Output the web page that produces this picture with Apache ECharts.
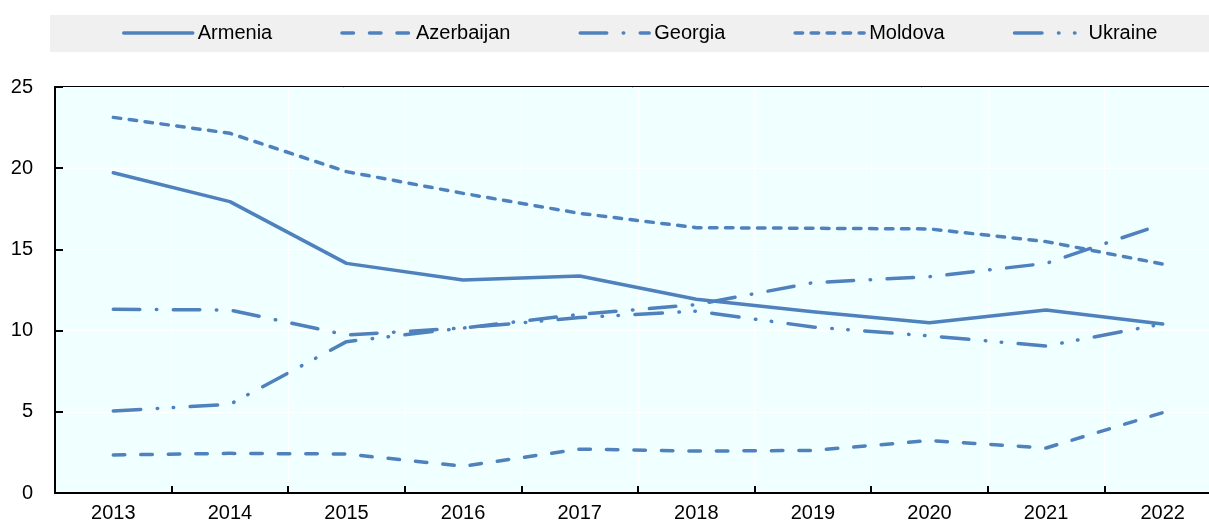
<!DOCTYPE html>
<html>
<head>
<meta charset="utf-8">
<script src="https://cdn.jsdelivr.net/npm/echarts@6/dist/echarts.min.js"></script>
<style>
html,body{margin:0;padding:0;background:#fff;}
#chart{width:1209px;height:523px;}
</style>
</head>
<body>
<div id="chart"></div>
<script>
var years = ['2013','2014','2015','2016','2017','2018','2019','2020','2021','2022'];
var armenia    = [19.72, 17.94, 14.14, 13.12, 13.36, 11.93, 11.16, 10.49, 11.27, 10.41];
var azerbaijan = [2.34, 2.44, 2.40, 1.65, 2.70, 2.58, 2.62, 3.23, 2.77, 4.95];
var georgia    = [11.31, 11.27, 9.73, 10.16, 11.00, 11.60, 12.95, 13.32, 14.14, 16.56];
var moldova    = [23.13, 22.15, 19.79, 18.45, 17.22, 16.34, 16.30, 16.26, 15.48, 14.10];
var ukraine    = [5.05, 5.46, 9.32, 10.16, 10.80, 11.20, 10.22, 9.67, 9.05, 10.41];
var yTicks = [0, 5, 10, 15, 20, 25];

var blue = '#4f81bd';
var font = "'Liberation Sans', Arial, sans-serif";

function mk(name, data, dash) {
  return {
    name: name, type: 'line', data: data, symbol: 'none', showSymbol: false,
    lineStyle: { color: blue, width: 3.5, type: dash, cap: 'round', join: 'round' },
    itemStyle: { color: blue },
    emphasis: { disabled: true },
    animation: false
  };
}

var chart = echarts.init(document.getElementById('chart'), null, { renderer: 'canvas' });
chart.setOption({
  animation: false,
  graphic: [{
    type: 'rect', left: 50, top: 15, z: -10,
    shape: { width: 1170, height: 37 },
    style: { fill: '#f0f0f0' }
  }],
  legend: {
    left: 122, top: 23, padding: 0,
    itemWidth: 69, itemHeight: 14, itemGap: 68,
    itemStyle: { opacity: 0 },
    lineStyle: { width: 3.5, cap: 'round' },
    textStyle: { fontSize: 20, color: '#000', fontFamily: font },
    data: ['Armenia', 'Azerbaijan', 'Georgia', 'Moldova', 'Ukraine']
  },
  grid: {
    left: 55, top: 87, bottom: 30, right: -12,
    outerBoundsMode: 'none',
    containLabel: false,
    show: true, backgroundColor: '#f0ffff', borderColor: '#000', borderWidth: 2
  },
  xAxis: {
    type: 'category', data: years, boundaryGap: true,
    axisLine: { show: true, lineStyle: { color: '#000', width: 2 } },
    axisTick: { show: true, inside: true, length: 7, lineStyle: { color: '#000', width: 2 } },
    axisLabel: { fontSize: 20, color: '#000', fontFamily: font, margin: 10 },
    splitLine: { show: true, lineStyle: { color: '#ffffff', width: 1 } }
  },
  yAxis: {
    type: 'value', min: yTicks[0], max: yTicks[yTicks.length - 1], interval: 5,
    axisLine: { show: true, lineStyle: { color: '#000', width: 2 } },
    axisTick: { show: true, inside: true, length: 8, lineStyle: { color: '#000', width: 2 } },
    axisLabel: { fontSize: 20, color: '#000', fontFamily: font, margin: 22 },
    splitLine: { show: true, lineStyle: { color: '#ffffff', width: 1 } }
  },
  series: [
    mk('Armenia', armenia, 'solid'),
    mk('Azerbaijan', azerbaijan, [11.5, 16]),
    mk('Georgia', georgia, [26.5, 16.5, 0.5, 16.5]),
    mk('Moldova', moldova, [7.5, 8.5]),
    mk('Ukraine', ukraine, [27.5, 16.5, 0.5, 15.5, 0.5, 16.5])
  ]
});
</script>
</body>
</html>
